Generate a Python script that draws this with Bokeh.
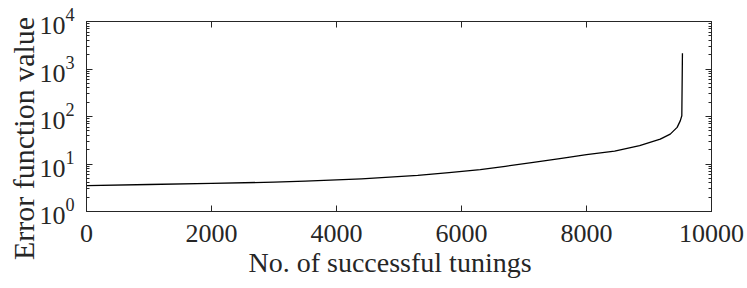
import math
from bokeh.plotting import figure
from bokeh.models import LinearAxis, LogAxis, FixedTicker, Range1d, Title, Label
from bokeh.embed import file_html
from bokeh.resources import INLINE

# Data (sorted error values)
tunings = [0, 1000, 2000, 3000, 3500, 4400, 5300, 5800, 6300, 6700, 7150,
           7600, 8000, 8450, 8850, 9180, 9340, 9450, 9500, 9525, 9535]
errors = [3.5, 3.7, 3.9, 4.15, 4.37, 4.88, 5.75, 6.6, 7.6, 8.95, 10.8,
          13.2, 15.7, 18.7, 24.5, 33.5, 42.5, 59.0, 81.0, 104.0, 2150.0]

x_ticks = [0, 2000, 4000, 6000, 8000, 10000]
y_ticks = [1, 10, 100, 1000, 10000]
y_minor = [m * d for d in [1, 10, 100, 1000] for m in range(2, 10)]

x_title = "No. of successful tunings"
y_title = "Error function value"

FONT = "Liberation Serif"
TXT = "#262626"
W, H = 747, 288

p = figure(width=W, height=H, y_axis_type="log",
           x_range=Range1d(0, 10000), y_range=Range1d(1, 1e4),
           output_backend="svg", toolbar_location=None,
           min_border_left=86, min_border_right=36,
           min_border_top=21, min_border_bottom=77)

p.line(tunings, errors, line_color="black", line_width=1.3,
       line_join="round")

p.xgrid.visible = False
p.ygrid.visible = False
p.outline_line_color = TXT
p.outline_line_width = 1
p.background_fill_color = "white"
p.border_fill_color = "white"


def style(ax, ticks, labels=True):
    ax.axis_line_color = TXT
    ax.major_tick_line_color = TXT
    ax.minor_tick_line_color = TXT
    ax.major_tick_in = 6
    ax.major_tick_out = 0
    ax.minor_tick_in = 3
    ax.minor_tick_out = 0
    ax.major_label_text_font = FONT
    ax.major_label_text_color = TXT
    if not labels:
        ax.major_label_overrides = {t: "" for t in ticks}
        ax.major_label_text_font_size = "1px"
        ax.major_label_standoff = 0


xa = p.xaxis[0]
xa.ticker = FixedTicker(ticks=x_ticks, minor_ticks=[])
style(xa, x_ticks)
xa.major_label_text_font_size = "26px"
xa.major_label_standoff = 13

ya = p.yaxis[0]
ya.ticker = FixedTicker(ticks=y_ticks, minor_ticks=y_minor)
style(ya, y_ticks)
ya.major_label_text_font_size = "26px"
ya.major_label_standoff = 12

top = LinearAxis(ticker=FixedTicker(ticks=x_ticks, minor_ticks=[]))
style(top, x_ticks, labels=False)
p.add_layout(top, "above")

right = LogAxis(ticker=FixedTicker(ticks=y_ticks, minor_ticks=y_minor))
style(right, y_ticks, labels=False)
p.add_layout(right, "right")

# axis titles, placed like the reference
p.add_layout(Title(text=x_title, align="left", offset=162,
                   text_font=FONT, text_font_size="28px",
                   text_font_style="normal", text_color=TXT,
                   standoff=0), "below")
p.add_layout(Label(x=23, y=138, x_units="canvas", y_units="canvas",
                   text=y_title, text_font=FONT, text_font_size="30px",
                   text_color=TXT, text_align="center",
                   text_baseline="alphabetic", angle=math.pi / 2),
             "left")

open("out.html", "w").write(file_html(p, INLINE))
